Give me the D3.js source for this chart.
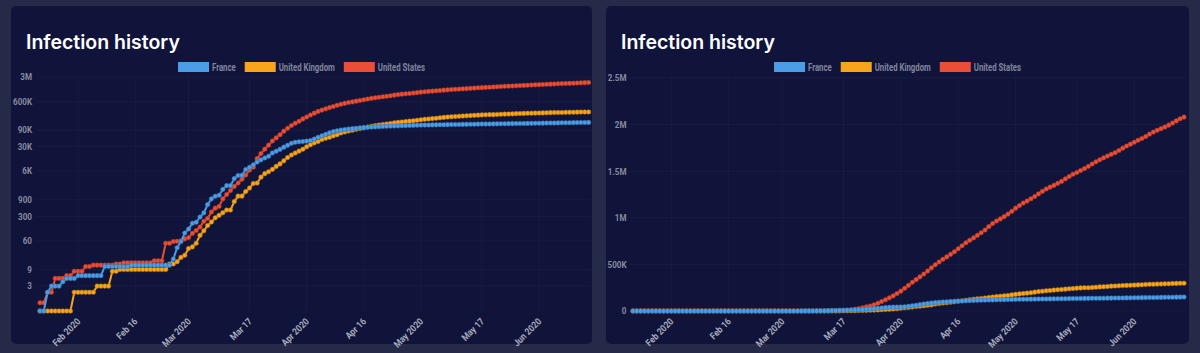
<!DOCTYPE html>
<html>
<head>
<meta charset="utf-8">
<script src="https://cdn.jsdelivr.net/npm/d3@7"></script>
<style>
  body { margin: 0; background: #242a47; }
  svg { display: block; }
</style>
</head>
<body>
<svg id="chart" width="1200" height="353"></svg>
<script>
// daily cumulative cases, 2020-01-22 .. 2020-06-14
const startDate = new Date(2020, 0, 22);
const endDate = new Date(2020, 5, 14);

const countries = ["France", "United Kingdom", "United States"];
const colors = ["#4b9de8", "#f8a51c", "#eb4e36"];

const france = [
  0, 0, 2, 3, 3, 3, 4, 5, 5, 5,
  6, 6, 6, 6, 6, 6, 6, 11, 11, 11, 11, 11, 11, 11, 12, 12, 12, 12, 12, 12, 12, 12, 12, 12, 12, 18, 38, 57, 100,
  130, 191, 204, 288, 380, 656, 957, 1134, 1217, 1792, 2289, 2289, 3672, 4480, 4513, 6650, 7652, 9043, 10871, 12612,
  14282, 16018, 19856, 22304, 25233, 29155, 32964, 37575, 40174, 41500, 42300,
  43500, 45000, 50000, 56000, 62000, 68000, 75000, 81000, 86000, 90000, 93500, 96500, 99000, 101500, 104000,
  106000, 108000, 110000, 111500, 113000, 114500, 116000, 117000, 118000, 119000, 120000, 121000, 122000, 123000, 124000,
  125000, 125500, 126000, 126600, 127200, 127800, 128400, 129000, 129500, 130000, 130500, 131000, 131600, 132200, 132800,
  133400, 134000, 134500, 135000, 135500, 136000, 136500, 137000, 137500, 138000, 138500, 139000, 139500, 140000, 140600, 141200,
  141800, 142400, 143000, 143600, 144200, 144800, 145400, 146000, 146600, 147200, 147800, 148400, 149000, 149600
];

const uk = [
  0, 0, 0, 0, 0, 0, 0, 0, 0, 2,
  2, 2, 2, 2, 2, 3, 3, 3, 3, 8, 8, 9, 9, 9, 9, 9, 9, 9, 9, 9, 9, 9, 9, 9, 13, 13, 15, 20, 23,
  36, 40, 51, 86, 116, 164, 207, 274, 322, 384, 459, 459, 802, 1144, 1145, 1551, 1960, 2642, 2716, 4014,
  5067, 5745, 6726, 8164, 9640, 11812, 14745, 17312, 19780, 22453, 25481,
  29865, 34173, 38689, 42477, 48436, 52279, 55949, 61474, 65872, 74605, 79874, 85206, 89570, 94845, 99483,
  104145, 109769, 115314, 121172, 125856, 130172, 134638, 139246, 144640, 149569, 154037, 158348, 162350, 166441, 172481,
  178685, 183500, 187842, 191832, 196243, 202359, 207977, 212629, 216525, 220449, 224332, 227741, 230986, 234440, 238004,
  241461, 244995, 247709, 250138, 249619, 252246, 255544, 258504, 260916, 262547, 266599, 268619, 270508, 272826, 274762, 276332,
  277985, 279856, 281661, 284868, 286294, 287399, 288834, 290143, 291409, 292950, 294402, 295889, 297342, 298136
];

const us = [
  1, 1, 2, 2, 5, 5, 5, 6, 6, 8,
  8, 8, 11, 11, 12, 12, 12, 12, 12, 12, 13, 13, 14, 14, 14, 14, 14, 14, 14, 14, 16, 16, 16, 51, 51, 57, 58, 60, 68,
  74, 98, 118, 149, 217, 262, 402, 518, 583, 959, 1281, 1663, 2179, 2726, 3499, 4632, 6421, 7786, 13680, 19101,
  25493, 33276, 43847, 53740, 65778, 83836, 101657, 121465, 140909, 161831, 188172,
  213242, 243622, 275367, 308650, 336802, 366317, 397121, 428654, 462780, 496535, 526396, 555313, 580619, 607670, 636350,
  667801, 699706, 732197, 758809, 784326, 811865, 840351, 869170, 905358, 938154, 965785, 988197, 1012582, 1039909, 1069424,
  1103461, 1132539, 1158040, 1180375, 1204351, 1229331, 1257023, 1283929, 1309550, 1329260, 1347881, 1369376, 1390406, 1417774, 1442824,
  1467820, 1486757, 1508308, 1528568, 1551853, 1577147, 1600937, 1622612, 1643246, 1662302, 1680913, 1699176, 1721750, 1747087, 1770384, 1790191,
  1811277, 1831821, 1851520, 1872660, 1897838, 1920061, 1938823, 1956421, 1973797, 1994283, 2016027, 2039813, 2062809, 2080593
];

const logTicks = [3, 9, 60, 300, 900, 6000, 30000, 90000, 600000, 3000000];
const linTicks = [0, 500000, 1000000, 1500000, 2000000, 2500000];

const xTickDates = ["2020-02-01", "2020-02-16", "2020-03-01", "2020-03-17", "2020-04-01",
                    "2020-04-16", "2020-05-01", "2020-05-17", "2020-06-01"];
const xTickLabels = ["Feb 2020", "Feb 16", "Mar 2020", "Mar 17", "Apr 2020",
                     "Apr 16", "May 2020", "May 17", "Jun 2020"];

const seriesList = [france, uk, us];
const dates = d3.timeDay.range(startDate, d3.timeDay.offset(endDate, 1));

const svg = d3.select("#chart");
const narrowFont = "Roboto, 'Liberation Sans', sans-serif";

function fmtValue(v) {
  if (v >= 1e6) return (v / 1e6) + "M";
  if (v >= 1e3) return (v / 1e3) + "K";
  return String(v);
}

function drawPanel(cfg) {
  const g = svg.append("g");

  g.append("rect")
    .attr("x", cfg.left).attr("y", 6)
    .attr("width", cfg.width).attr("height", 338)
    .attr("rx", 5)
    .attr("fill", "#11143a");

  g.append("text")
    .attr("x", cfg.left + 15).attr("y", 49)
    .attr("fill", "#ffffff")
    .style("font-family", "Inter, 'Open Sans', sans-serif")
    .style("font-size", "19.5px")
    .style("font-weight", 600)
    .text("Infection history");

  const x = d3.scaleTime()
    .domain([startDate, endDate])
    .range(cfg.xRange);

  let y;
  if (cfg.log) {
    y = d3.scaleLog().domain([0.58, 3000000]).range([311, 77]).clamp(true);
  } else {
    y = d3.scaleLinear().domain([0, 2500000]).range([311, 78]);
  }
  const ticks = cfg.log ? logTicks : linTicks;

  // grid
  g.append("g").selectAll("line")
    .data(ticks)
    .join("line")
    .attr("x1", cfg.xRange[0] - 4).attr("x2", cfg.xRange[1] + 2)
    .attr("y1", d => y(d)).attr("y2", d => y(d))
    .attr("stroke", "rgba(255,255,255,0.035)");

  g.append("g").selectAll("line")
    .data(xTickDates)
    .join("line")
    .attr("x1", d => x(new Date(d + "T00:00"))).attr("x2", d => x(new Date(d + "T00:00")))
    .attr("y1", 77).attr("y2", 311)
    .attr("stroke", "rgba(255,255,255,0.03)");

  // y labels (condensed look)
  g.append("g").selectAll("text")
    .data(ticks)
    .join("text")
    .attr("transform", d => `translate(${cfg.yLabelX},${y(d)}) scale(0.85,1)`)
    .attr("dy", "0.35em")
    .attr("text-anchor", "end")
    .attr("fill", "#868a9f")
    .style("font-family", narrowFont)
    .style("font-size", "9.5px")
    .style("font-weight", 700)
    .text(fmtValue);

  // x labels
  g.append("g").selectAll("text")
    .data(xTickDates)
    .join("text")
    .attr("transform", d => `translate(${x(new Date(d + "T00:00")) + 3},322) rotate(-45) scale(0.88,1)`)
    .attr("text-anchor", "end")
    .attr("fill", "#a6aabb")
    .style("font-family", narrowFont)
    .style("font-size", "9.5px")
    .style("font-weight", 700)
    .text((d, i) => xTickLabels[i]);

  const line = d3.line()
    .x((d, i) => x(dates[i]))
    .y(d => y(d));

  // France is drawn last so it sits on top
  for (let k = seriesList.length - 1; k >= 0; k--) {
    const data = seriesList[k];
    const sg = g.append("g");
    sg.append("path")
      .attr("d", line(data))
      .attr("fill", "none")
      .attr("stroke", colors[k])
      .attr("stroke-width", 2);
    sg.selectAll("circle")
      .data(data)
      .join("circle")
      .attr("cx", (d, i) => x(dates[i]))
      .attr("cy", d => y(d))
      .attr("r", 2.3)
      .attr("fill", colors[k])
      .attr("stroke", d3.color(colors[k]).darker(1.2))
      .attr("stroke-width", 0.5);
  }

  // legend, centered on the panel
  const lg = g.append("g");
  let cx = 0;
  countries.forEach((c, i) => {
    const it = lg.append("g");
    it.append("rect")
      .attr("x", 0).attr("y", 62)
      .attr("width", 31).attr("height", 10)
      .attr("fill", colors[i]);
    const t = it.append("text")
      .attr("transform", "translate(34,70.5) scale(0.78,1)")
      .attr("fill", "#80849a")
      .style("font-family", narrowFont)
      .style("font-size", "10px")
      .style("font-weight", 700)
      .text(c);
    const w = 34 + t.node().getComputedTextLength() * 0.78;
    it.attr("transform", `translate(${cx},0)`);
    cx += w + 9;
  });
  const total = cx - 9;
  lg.attr("transform", `translate(${cfg.left + cfg.width / 2 - total / 2},0)`);
}

drawPanel({ left: 11, width: 581, xRange: [40, 588.6], yLabelX: 32, log: true });
drawPanel({ left: 606, width: 583, xRange: [633, 1184], yLabelX: 626.5, log: false });
</script>
</body>
</html>
